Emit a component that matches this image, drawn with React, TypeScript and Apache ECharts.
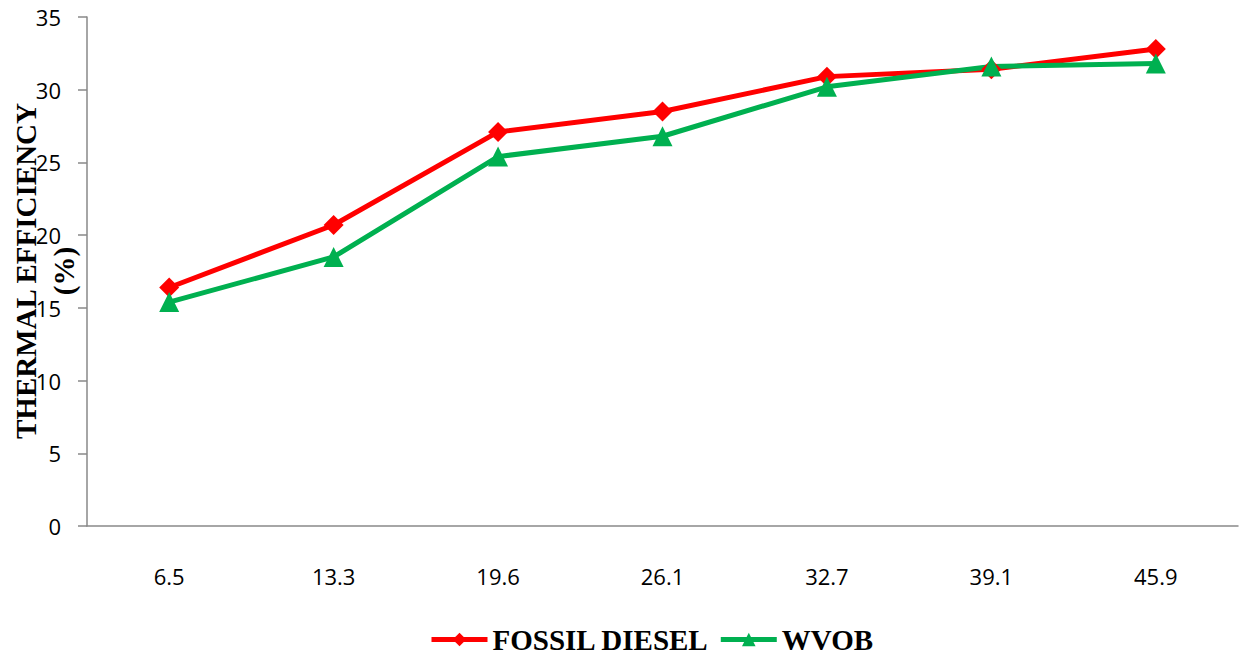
import React, { useEffect, useRef } from "react";
import * as echarts from "echarts";

const categories = ["6.5", "13.3", "19.6", "26.1", "32.7", "39.1", "45.9"];
const fossilDiesel = [16.4, 20.7, 27.1, 28.5, 30.9, 31.4, 32.8];
const wvob = [15.4, 18.5, 25.4, 26.8, 30.2, 31.6, 31.8];
const seriesNames = ["FOSSIL DIESEL", "WVOB"];
const yAxisTitle = "THERMAL EFFICIENCY\n(%)";

export default function App() {
  const ref = useRef<HTMLDivElement>(null);
  useEffect(() => {
    if (!ref.current) return;
    const chart = echarts.init(ref.current, undefined, { renderer: "svg" });
    chart.setOption({
      animation: false,
      backgroundColor: "#ffffff",
      grid: { left: 87, right: 1, top: 17, bottom: 130, containLabel: false },
      legend: {
        top: 625,
        left: 429,
        padding: 0,
        itemWidth: 56,
        itemHeight: 17,
        itemGap: 9,
        lineStyle: { width: 5 },
        textStyle: {
          fontFamily: "Liberation Serif",
          fontWeight: "bold",
          fontSize: 29,
          color: "#000",
        },
        data: seriesNames,
      },
      xAxis: {
        type: "category",
        data: categories,
        boundaryGap: true,
        axisLine: { lineStyle: { color: "#898989", width: 1.5 } },
        axisTick: { show: false },
        axisLabel: {
          margin: 39,
          fontFamily: "Open Sans",
          fontSize: 22,
          color: "#000",
        },
      },
      yAxis: {
        type: "value",
        min: 0,
        max: 35,
        interval: 5,
        splitLine: { show: false },
        axisLine: { show: true, lineStyle: { color: "#898989", width: 1.5 } },
        axisTick: { show: true, length: 9, lineStyle: { color: "#898989", width: 1.5 } },
        axisLabel: {
          margin: 26,
          fontFamily: "Open Sans",
          fontSize: 22,
          color: "#000",
        },
      },
      graphic: [
        {
          type: "text",
          x: 45,
          y: 271,
          rotation: Math.PI / 2,
          style: {
            text: yAxisTitle,
            align: "center",
            verticalAlign: "middle",
            fontFamily: "Liberation Serif",
            fontWeight: "bold",
            fontSize: 29,
            lineHeight: 38,
            fill: "#000",
          },
        },
      ],
      series: [
        {
          name: seriesNames[0],
          type: "line",
          data: fossilDiesel,
          symbol: "diamond",
          symbolSize: 20,
          lineStyle: { color: "#FF0000", width: 5 },
          itemStyle: { color: "#FF0000" },
        },
        {
          name: seriesNames[1],
          type: "line",
          data: wvob,
          symbol: "triangle",
          symbolSize: 20,
          lineStyle: { color: "#00B050", width: 5 },
          itemStyle: { color: "#00B050" },
        },
      ],
    });
    return () => chart.dispose();
  }, []);
  return <div ref={ref} style={{ width: 1239, height: 656, position: "fixed", left: 0, top: 0 }} />;
}
